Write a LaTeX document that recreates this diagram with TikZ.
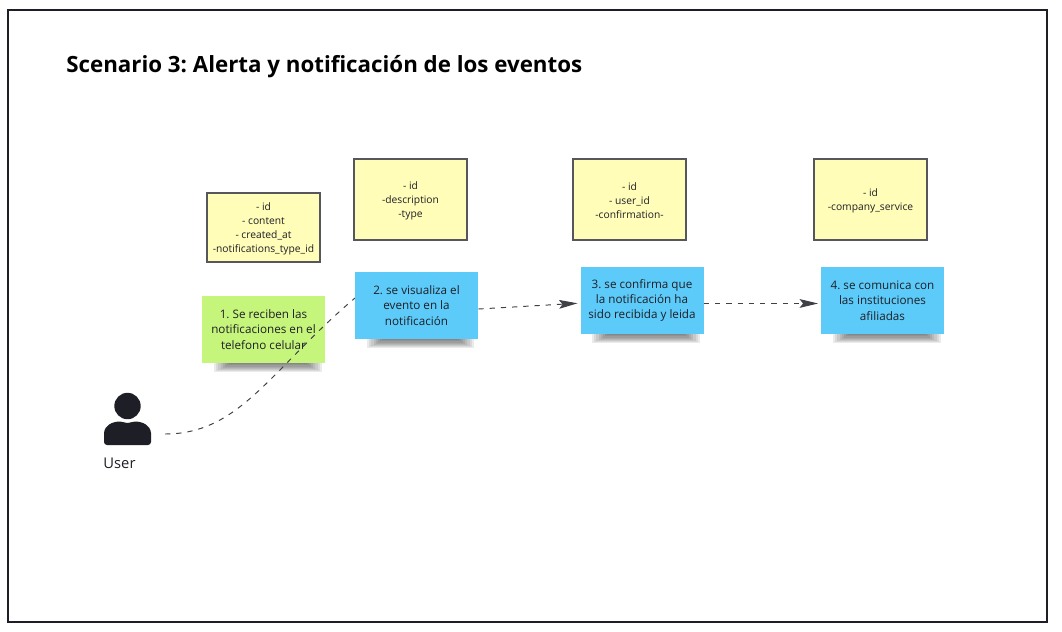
\documentclass[tikz,border=0pt]{standalone}
\usepackage{fontspec}
\setmainfont{Open Sans}
\usepackage{xcolor}
\usetikzlibrary{arrows.meta}
\definecolor{inkdark}{HTML}{1E1F26}
\definecolor{noteyellow}{HTML}{FFFDB8}
\definecolor{notegreen}{HTML}{C6F57B}
\definecolor{noteblue}{HTML}{5CCBFA}
\newcommand{\attrtop}{\rule{0pt}{6pt}}
\frenchspacing
\tikzset{
  attrbox/.style={draw=inkdark!75, line width=0.75pt, fill=noteyellow, minimum width=113*0.02cm, align=center, inner sep=0pt, font=\fontsize{5.85}{8.05}\selectfont, text=inkdark},
  notebox/.style={fill=#1, minimum width=123*0.02cm, minimum height=67*0.02cm, align=center, inner sep=0pt, font=\fontsize{6.65}{8.75}\selectfont, text=inkdark},
  flow/.style={inkdark!85, line width=0.55pt, dash pattern=on 3pt off 3.4pt},
  flowtip/.style={-{Stealth[length=10.5pt,width=5pt,inset=2pt]}, shorten >=1.5pt}
}
\begin{document}
\begin{tikzpicture}[x=0.02cm, y=-0.02cm]
\useasboundingbox (0,0) rectangle (1062,632);
%--- Frame and title ---
\draw[inkdark, line width=1.1pt] (8,10) rectangle (1047,622);
\node[anchor=west, font=\fontsize{12.7}{16}\selectfont\bfseries, text=black, inner sep=0pt] (title) at (66,67) {Scenario 3: Alerta y notificación de los eventos};
%--- Shadows under the notes ---
\foreach \xa/\xb/\yb in {214/322/363, 367/474/339, 592/700/334, 833/941/334} {
  \foreach \g in {0,1,2,3,4,5,6,7} {
    \fill[black, opacity=0.08] (\xa+\g*2.2,\yb) rectangle (\xb-\g*2.2,\yb+9-\g*1.1);
  }
}
%--- User ---
\fill[inkdark] (127.5,406) circle (13.2);
\fill[inkdark] (104,433) to[out=85,in=180] (120,421.5) to[out=0,in=180] (127.5,423) to[out=0,in=180] (135,421.5) to[out=0,in=95] (151,433) -- (151,442) arc[start angle=0,end angle=90,radius=3] -- (107,445) arc[start angle=90,end angle=180,radius=3] -- cycle;
\node[font=\fontsize{8.4}{10}\selectfont, text=inkdark, inner sep=0pt, minimum width=47*0.02cm, minimum height=20*0.02cm] (user) at (119.5,463.5) {User};
\coordinate (userout) at (165,434);
%--- Steps ---
\node[notebox=notegreen] (recv) at (263.5,329.5) {1. Se reciben las\\notificaciones en el\\telefono celular};
\draw[flow] (userout) .. controls (240,434) and (270,370) .. (355,298);
\node[notebox=noteblue] (view) at (416.5,305.5) {2. se visualiza el\\evento en la\\notificación};
\node[notebox=noteblue] (conf) at (642,300.5) {3. se confirma que\\la notificación ha\\sido recibida y leida};
\node[notebox=noteblue] (inst) at (882.5,300.5) {4. se comunica con\\las instituciones\\afiliadas};
\draw[flow, flowtip] ([yshift=-2pt]view.east) -- ([yshift=-1.5pt]conf.west);
\draw[flow, flowtip] ([yshift=-1.7pt]conf.east) -- ([yshift=-1.7pt]inst.west);
%--- Attributes ---
\node[attrbox, minimum height=69*0.02cm] (attra) at (263.5,227.5) {\attrtop- id\\- content\\- created\_at\\-notifications\_type\_id};
\node[attrbox, minimum height=81*0.02cm] (attrb) at (410.5,199.5) {\attrtop- id\\-description\\-type};
\node[attrbox, minimum height=81*0.02cm] (attrc) at (629.5,199.5) {\attrtop- id\\- user\_id\\-confirmation-};
\node[attrbox, minimum height=81*0.02cm] (attrd) at (870.5,199.5) {\attrtop- id\\-company\_service};
\end{tikzpicture}
\end{document}
